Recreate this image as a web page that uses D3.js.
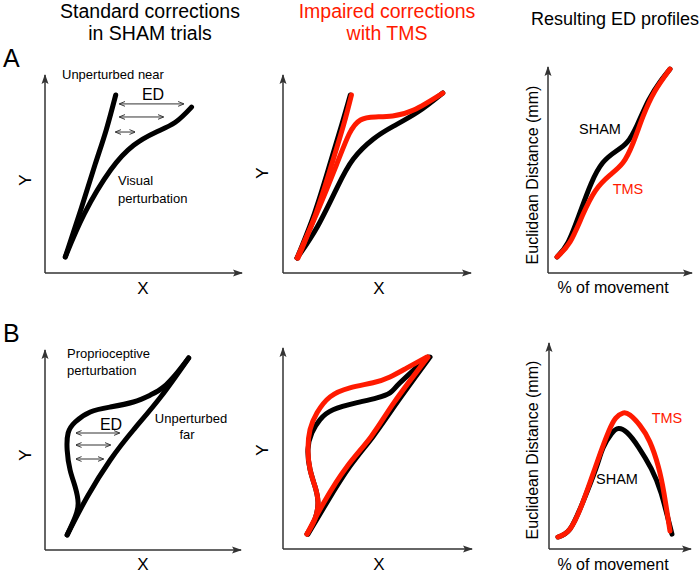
<!DOCTYPE html>
<html>
<head>
<meta charset="utf-8">
<script src="https://cdn.jsdelivr.net/npm/d3@7"></script>
<style>
  body { margin: 0; background: #fff; }
  svg { font-family: "Liberation Sans", Arial, sans-serif; }
</style>
</head>
<body>
<div id="fig"></div>
<script>
// schematic trajectories, in axis units (0-100 on each axis)
const a1Near = [[10.3,8.1],[18.5,33],[25.5,55],[31,72],[35.9,89.9]]
const a1Visual = [[10.3,8.1],[20,30],[33.3,52],[45,64.5],[56,71],[66,76],[74.4,83.8]]
const a1Ed = [[37.9,70.3,85.4],[37.9,60.0,78.8],[35.9,45.6,71.2]]

const a2Near = [[7.5,7.6],[16.8,30.3],[24.8,54.5],[31.2,74.7],[35.8,89.9]]
const a2Visual = [[7.5,7.6],[18.2,23.2],[28.9,43.4],[37.4,57.6],[48.1,67.7],[58.8,74.2],[71.7,81.3],[85.0,90.9]]
const a2NearTms = [[8.0,7.6],[17.6,30.3],[25.8,54.5],[32.2,74.7],[36.4,89.9]]
const a2VisualTms = [[7.5,7.6],[18.0,30.3],[28.4,54.5],[35.2,70.2],[41.2,77.3],[49.2,78.8],[58.3,79.3],[69.5,82.3],[85.0,90.9]]

const a3Sham = [[6.3,7.8],[14,15],[22.2,29.3],[30,43.5],[38,53.5],[47,59],[55,63.5],[62,72],[70,84],[78,93],[84.7,99]]
const a3Tms = [[6.3,7.8],[15.3,15.1],[24,28],[33,40],[43,47.5],[52,53.5],[59,63],[66,76],[74,88],[84.7,99]]

const b1Far = [[11.3,7.5],[21.5,26.5],[33.3,45],[45.1,60],[59,76.5],[73.3,96]]
const b1Prop = [[11.3,7.5],[15.4,16.5],[16.9,23.5],[15.4,31.5],[12.8,40],[11.3,50],[11.8,58.5],[15.4,64],[23.1,69],[33.3,71.5],[45.1,74],[53.8,77.5],[60.5,81.5],[67.7,89],[73.3,96]]
const b1Ed = [[15.9,37.9,58.5],[15.9,33.3,52.5],[15.9,29.7,45.5]]

const b2Far = [[13.2,7.4],[23.3,23.3],[35.4,41.1],[47.6,55.9],[60.3,72.8],[77.8,95.5]]
const b2Prop = [[12.7,7.4],[16.9,14.9],[18.5,23.3],[16.9,31.2],[14.3,39.6],[13.2,49.5],[15.3,57.9],[19.6,64.4],[26.5,69.3],[39.2,72.8],[49.7,75.2],[56.6,77.7],[61.9,82.7],[76.7,95.5]]
const b2FarTms = [[12.7,7.4],[21.7,23.3],[33.9,41.1],[46.6,55.9],[58.7,72.8],[76.7,95.5]]
const b2PropTms = [[12.7,7.4],[16.9,14.9],[18.5,23.3],[16.9,31.2],[14.3,39.6],[13.2,49.5],[14.3,59.4],[18,67.8],[24.9,75.7],[35.4,80.2],[47.6,82.7],[56.6,85.6],[65.6,90.1],[76.2,95.5]]

const b3Sham = [[6.3,5.8],[14.8,9.7],[24,23],[33,39],[38,49],[44,56],[49,58.5],[55,56.5],[63,49.5],[72,39],[79,27],[86.6,7.2]]
const b3Tms = [[6.3,5.8],[14.8,9.7],[24,23],[33.8,42],[42,57],[47,63.5],[52,66],[57,65],[64,60],[71,52],[77,40],[81,27],[85.2,8.7]]

const RED = "#ff1a00"

const svg = d3.select("#fig").append("svg")
    .attr("width", 700)
    .attr("height", 573)

const defs = svg.append("defs")
defs.append("marker")
    .attr("id", "axhead")
    .attr("viewBox", "0 0 10 10")
    .attr("refX", 9).attr("refY", 5)
    .attr("markerWidth", 10).attr("markerHeight", 10)
    .attr("markerUnits", "userSpaceOnUse")
    .attr("orient", "auto")
  .append("path")
    .attr("d", "M0,1.5 L10,5 L0,8.5 L2,5 Z")
    .attr("fill", "#333")
defs.append("marker")
    .attr("id", "edhead")
    .attr("viewBox", "0 0 10 10")
    .attr("refX", 9).attr("refY", 5)
    .attr("markerWidth", 6).attr("markerHeight", 6)
    .attr("markerUnits", "userSpaceOnUse")
    .attr("orient", "auto-start-reverse")
  .append("path")
    .attr("d", "M0,1 L10,5 L0,9")
    .attr("fill", "none")
    .attr("stroke", "#333")
    .attr("stroke-width", 1.6)

// one frame per panel: left, right(tip), bottom, top(tip)
function panel(l, r, b, t) {
    let x = d3.scaleLinear().domain([0, 100]).range([l, r])
    let y = d3.scaleLinear().domain([0, 100]).range([b, t])
    let g = svg.append("g")
    g.append("line")
        .attr("x1", l).attr("y1", b).attr("x2", l).attr("y2", t)
        .attr("stroke", "#333").attr("stroke-width", 1.5)
        .attr("marker-end", "url(#axhead)")
    g.append("line")
        .attr("x1", l).attr("y1", b).attr("x2", r).attr("y2", b)
        .attr("stroke", "#333").attr("stroke-width", 1.5)
        .attr("marker-end", "url(#axhead)")
    let line = d3.line()
        .x(d => x(d[0]))
        .y(d => y(d[1]))
        .curve(d3.curveNatural)
    g.curve = (data, colour) => {
        g.append("path")
            .attr("d", line(data))
            .attr("fill", "none")
            .attr("stroke", colour || "#000")
            .attr("stroke-width", 5)
            .attr("stroke-linecap", "round")
            .attr("stroke-linejoin", "round")
    }
    g.ed = (rows) => {
        rows.forEach(d => {
            g.append("line")
                .attr("x1", x(d[0])).attr("x2", x(d[1]))
                .attr("y1", y(d[2])).attr("y2", y(d[2]))
                .attr("stroke", "#333").attr("stroke-width", 1)
                .attr("marker-start", "url(#edhead)")
                .attr("marker-end", "url(#edhead)")
        })
    }
    return g
}

function text(s, x, y, opts) {
    opts = opts || {}
    let t = svg.append("text")
        .attr("x", x).attr("y", y)
        .attr("font-size", opts.size || 13)
        .attr("fill", opts.fill || "#000")
        .attr("text-anchor", opts.anchor || "start")
        .text(s)
    if (opts.rotate) t.attr("transform", `rotate(-90,${x},${y})`)
    return t
}

// titles
text("Standard corrections", 150, 18, {size: 19.5, anchor: "middle"})
text("in SHAM trials", 150, 40, {size: 19.5, anchor: "middle"})
text("Impaired corrections", 387, 18, {size: 19.5, anchor: "middle", fill: RED})
text("with TMS", 387, 40, {size: 19.5, anchor: "middle", fill: RED})
text("Resulting ED profiles", 615, 25, {size: 18, anchor: "middle"})
text("A", 3, 67, {size: 25})
text("B", 3, 342, {size: 25})

// row A
let pA1 = panel(45, 242, 273, 75)
pA1.curve(a1Near)
pA1.curve(a1Visual)
pA1.ed(a1Ed)
text("Unperturbed near", 62, 79, {size: 13})
text("ED", 153, 100, {size: 16, anchor: "middle"})
text("Visual", 118, 185, {size: 13})
text("perturbation", 118, 203, {size: 13})

let pA2 = panel(283, 471, 273, 75)
pA2.curve(a2Near)
pA2.curve(a2Visual)
pA2.curve(a2NearTms, RED)
pA2.curve(a2VisualTms, RED)

let pA3 = panel(548, 692, 273, 67)
pA3.curve(a3Sham)
pA3.curve(a3Tms, RED)
text("SHAM", 600, 134, {size: 14.5, anchor: "middle"})
text("TMS", 628, 194, {size: 14.5, anchor: "middle", fill: RED})

// row B
let pB1 = panel(45, 241, 550, 350)
pB1.curve(b1Far)
pB1.curve(b1Prop)
pB1.ed(b1Ed)
text("Proprioceptive", 67, 358, {size: 13})
text("perturbation", 67, 375, {size: 13})
text("ED", 111, 430, {size: 16, anchor: "middle"})
text("Unperturbed", 191, 423, {size: 13, anchor: "middle"})
text("far", 187, 439, {size: 13, anchor: "middle"})

let pB2 = panel(283, 472, 549, 348)
pB2.curve(b2Far)
pB2.curve(b2Prop)
pB2.curve(b2FarTms, RED)
pB2.curve(b2PropTms, RED)

let pB3 = panel(549, 691, 549, 343)
pB3.curve(b3Sham)
pB3.curve(b3Tms, RED)
text("TMS", 667, 423, {size: 14.5, anchor: "middle", fill: RED})
text("SHAM", 617, 484, {size: 14.5, anchor: "middle"})

// axis names
text("X", 143, 294, {size: 17, anchor: "middle"})
text("X", 379, 294, {size: 17, anchor: "middle"})
text("% of movement", 613, 293, {size: 16, anchor: "middle"})
text("X", 143, 570, {size: 17, anchor: "middle"})
text("X", 379, 570, {size: 17, anchor: "middle"})
text("% of movement", 613, 570, {size: 16, anchor: "middle"})
text("Y", 31, 180, {size: 17, anchor: "middle", rotate: true})
text("Y", 268, 173, {size: 17, anchor: "middle", rotate: true})
text("Euclidean Distance (mm)", 538, 175, {size: 16, anchor: "middle", rotate: true})
text("Y", 31, 455, {size: 17, anchor: "middle", rotate: true})
text("Y", 268, 450, {size: 17, anchor: "middle", rotate: true})
text("Euclidean Distance (mm)", 538, 450, {size: 16, anchor: "middle", rotate: true})
</script>
</body>
</html>
